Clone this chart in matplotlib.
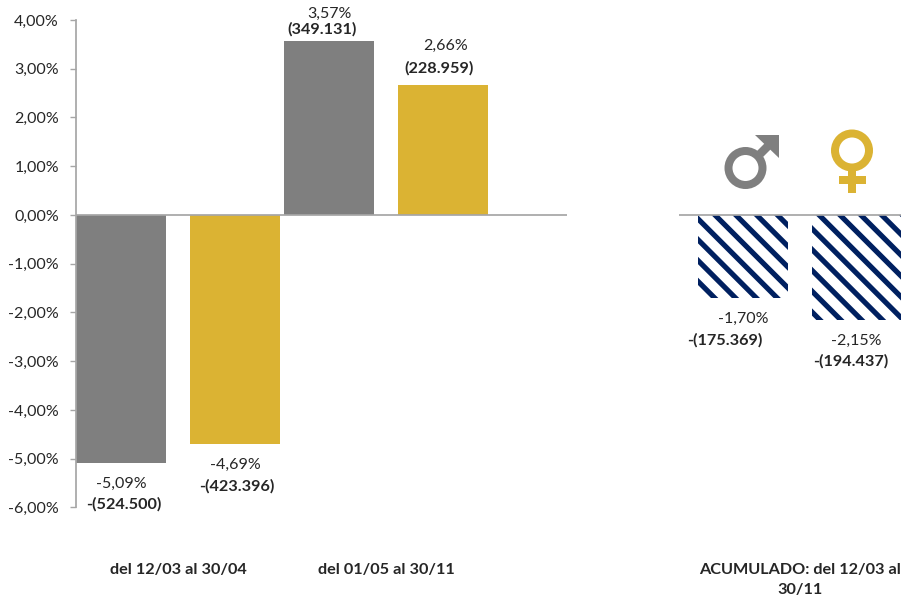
import matplotlib
matplotlib.use('Agg')
import matplotlib.pyplot as plt
from matplotlib.patches import Circle, Polygon, Rectangle

plt.rcParams['font.family'] = ['Lato', 'DejaVu Sans']
plt.rcParams['hatch.linewidth'] = 3.0

W, H = 901, 601
GRAY = '#7F7F7F'
GOLD = '#DBB333'
NAVY = '#002060'
AXIS = '#A6A6A6'
TEXT = '#262626'
FS = 9.2
FS_BOLD = 9.4

periods = ['del 12/03 al 30/04', 'del 01/05 al 30/11']
men = [-5.09, 3.57]
women = [-4.69, 2.66]
total_label = ['ACUMULADO: del 12/03 al\n30/11']
men_total = [-1.70]
women_total = [-2.15]
yticks = [4, 3, 2, 1, 0, -1, -2, -3, -4, -5, -6]
ytick_labels = ['4,00%', '3,00%', '2,00%', '1,00%', '0,00%', '-1,00%',
                '-2,00%', '-3,00%', '-4,00%', '-5,00%', '-6,00%']

# text, x, y in pixels
pct_labels = [('-5,09%', 121, 483.5), ('-4,69%', 235, 464.5), ('3,57%', 329, 14),
              ('2,66%', 446, 45.5), ('-1,70%', 743, 318.5), ('-2,15%', 856, 341)]
count_labels = [('-(524.500)', 124, 504), ('-(423.396)', 237, 486),
                ('(349.131)', 322, 29), ('(228.959)', 439, 68),
                ('-(175.369)', 725, 340), ('-(194.437)', 851, 361)]

# dpi 125 keeps the hatch tile a whole number of stripe periods
fig = plt.figure(figsize=(W / 125, H / 125), dpi=125)


def make_axes(left, right):
    top, bottom = 20, 507.5
    return fig.add_axes([left / W, 1 - bottom / H, (right - left) / W, (bottom - top) / H])


width = 90 / 208
offset = 57 / 208

ax1 = make_axes(75.5, 567)
ax1.set_xlim((75.5 - 178) / 208, (567 - 178) / 208)
ax1.set_ylim(-6, 4)
ax1.bar([i - offset for i in range(2)], men, width, color=GRAY)
ax1.bar([i + offset for i in range(2)], women, width, color=GOLD)
ax1.axhline(0, color=AXIS, lw=1.0, zorder=3)
ax1.set_yticks(yticks)
ax1.set_yticklabels(ytick_labels, fontsize=FS, color=TEXT)
ax1.tick_params(axis='y', length=3.6, width=0.8, color=AXIS, pad=6)
ax1.set_xticks(range(2))
ax1.set_xticklabels(periods, fontsize=FS_BOLD, fontweight='bold', color=TEXT)
ax1.tick_params(axis='x', length=0, pad=32)

ax2 = make_axes(679, 901)
ax2.set_xlim((679 - 800) / 208, (901 - 800) / 208)
ax2.set_ylim(-6, 4)
ax2.bar([-offset], men_total, width, facecolor='white', edgecolor=NAVY, hatch='\\\\', lw=0)
ax2.bar([offset], women_total, width, facecolor='white', edgecolor=NAVY, hatch='\\\\', lw=0)
ax2.axhline(0, color=AXIS, lw=1.0, zorder=3)
ax2.set_yticks([])
ax2.set_xticks([0])
ax2.set_xticklabels(total_label, fontsize=FS_BOLD, fontweight='bold', color=TEXT,
                    linespacing=1.5)
ax2.tick_params(axis='x', length=0, pad=32)

for ax in (ax1, ax2):
    ax.spines['top'].set_visible(False)
    ax.spines['right'].set_visible(False)
    ax.spines['bottom'].set_visible(False)
ax1.spines['left'].set_color(AXIS)
ax1.spines['left'].set_linewidth(1.0)
ax2.spines['left'].set_visible(False)

# pixel overlay for the data labels and the two icons
over = fig.add_axes([0, 0, 1, 1], facecolor='none')
over.set_xlim(0, W)
over.set_ylim(H, 0)
over.axis('off')

for label, x, y in pct_labels:
    over.text(x, y, label, ha='center', va='center', fontsize=FS, color=TEXT)
for label, x, y in count_labels:
    over.text(x, y, label, ha='center', va='center', fontsize=FS_BOLD, fontweight='bold', color=TEXT)

# male icon
over.add_patch(Circle((745.5, 168), 17, fill=False, ec=GRAY, lw=4.6))
over.add_patch(Polygon([(757, 151), (763, 157), (774, 146), (768, 140)], color=GRAY, lw=0))
over.add_patch(Polygon([(755, 135), (779, 135), (779, 158)], color=GRAY, lw=0))

# female icon
over.add_patch(Circle((852, 150.5), 17, fill=False, ec=GOLD, lw=4.6))
over.add_patch(Rectangle((848, 170), 8, 23, color=GOLD, lw=0))
over.add_patch(Rectangle((839, 176), 27, 8, color=GOLD, lw=0))

fig.savefig('out.png', dpi=125)
